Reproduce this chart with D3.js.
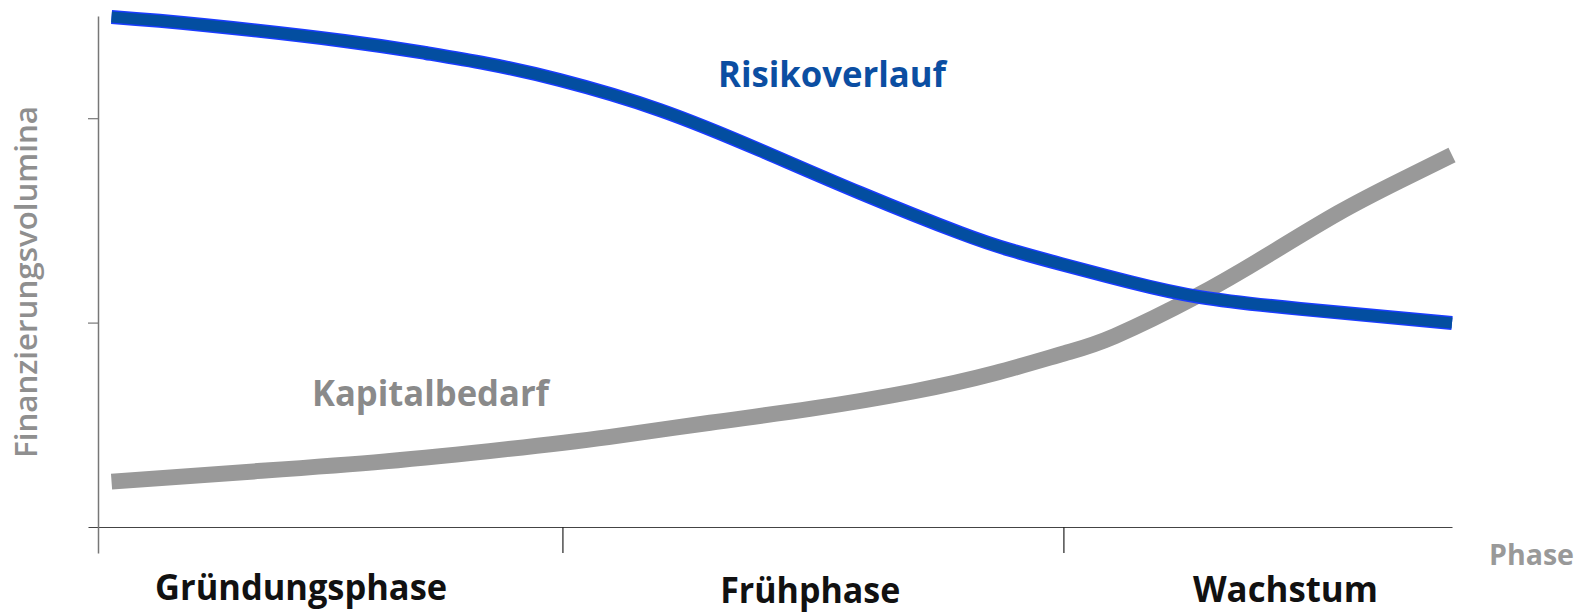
<!DOCTYPE html>
<html>
<head>
<meta charset="utf-8">
<script src="https://cdn.jsdelivr.net/npm/d3@7"></script>
<style>
  html, body { margin: 0; padding: 0; background: #fff; }
  svg { display: block; }
</style>
</head>
<body>
<svg id="chart" width="1590" height="613"></svg>
<script>
// ---- Data ----
const phases = ["Gründungsphase", "Frühphase", "Wachstum"];
const phaseBoundaries = [343, 713];          // x-positions (0..1000 progress) of phase tick marks
const phaseLabelX = [150, 526, 877];         // label centres, same units
const yTicks = [1, 2];

const risikoX = [10, 78, 182, 242, 287, 341, 415, 489, 563, 637, 674, 711, 762, 814, 888, 1000];
const risikoY = [2.495, 2.456, 2.378, 2.319, 2.267, 2.187, 2.040, 1.844, 1.634, 1.438, 1.355, 1.287, 1.199, 1.125, 1.067, 0.998];

const kapitalX = [10, 115, 212, 302, 377, 452, 527, 602, 662, 714, 751, 811, 864, 916, 961, 1000];
const kapitalY = [0.222, 0.272, 0.321, 0.381, 0.440, 0.510, 0.579, 0.663, 0.752, 0.850, 0.934, 1.128, 1.330, 1.536, 1.692, 1.820];

// ---- Layout ----
const svg = d3.select("#chart");
const x = d3.scaleLinear().domain([0, 1000]).range([98, 1452]);
const y = d3.scaleLinear().domain([0, 2.5]).range([527, 16]);

// X axis (extends slightly left of the y axis)
const xAxisScale = x.copy().domain([x.invert(88), 1000]).range([88, 1452]);
const gx = svg.append("g")
  .attr("transform", `translate(0,${y(0)})`)
  .call(d3.axisBottom(xAxisScale).tickValues(phaseBoundaries).tickSize(26).tickSizeOuter(0).tickFormat(""));
gx.select(".domain").attr("stroke", "#444").attr("stroke-width", 1.2);
gx.selectAll(".tick line").attr("stroke", "#222").attr("stroke-width", 1.2);

// Y axis (extends below the x axis)
const yAxisScale = y.copy().domain([y.invert(553), 2.5]).range([553, 16]);
const gy = svg.append("g")
  .attr("transform", `translate(${x(0)},0)`)
  .call(d3.axisLeft(yAxisScale).tickValues(yTicks).tickSize(10).tickSizeOuter(0).tickFormat(""));
gy.select(".domain").attr("stroke", "#777").attr("stroke-width", 1.5);
gy.selectAll(".tick line").attr("stroke", "#777").attr("stroke-width", 1.2);

// Lines
const line = d3.line().x(d => x(d[0])).y(d => y(d[1])).curve(d3.curveNatural);
const kapital = kapitalX.map((v, i) => [v, kapitalY[i]]);
const risiko = risikoX.map((v, i) => [v, risikoY[i]]);

svg.append("path").datum(kapital).attr("d", line)
  .attr("fill", "none").attr("stroke", "#999999").attr("stroke-width", 16).attr("stroke-linecap", "butt");

svg.append("path").datum(risiko).attr("d", line)
  .attr("fill", "none").attr("stroke", "#1a3cff").attr("stroke-width", 14).attr("stroke-linecap", "butt");
svg.append("path").datum(risiko).attr("d", line)
  .attr("fill", "none").attr("stroke", "#034ea0").attr("stroke-width", 11).attr("stroke-linecap", "butt");

// Text helper: fit to a measured width
function fitText(sel, w) {
  sel.attr("textLength", w).attr("lengthAdjust", "spacingAndGlyphs");
  return sel;
}
const font = "'Open Sans', 'DejaVu Sans', sans-serif";

// Phase labels
const phaseWidths = [292, 180, 185];
const phaseBase = [600, 603, 602];
phases.forEach((p, i) => {
  fitText(svg.append("text")
    .attr("x", x(phaseLabelX[i])).attr("y", phaseBase[i])
    .attr("text-anchor", "middle")
    .attr("font-family", font).attr("font-weight", 700).attr("font-size", 35)
    .attr("fill", "#111").text(p), phaseWidths[i]);
});

// Axis title "Phase"
fitText(svg.append("text")
  .attr("x", 1489).attr("y", 565)
  .attr("font-family", font).attr("font-weight", 700).attr("font-size", 29)
  .attr("fill", "#999").text("Phase"), 85);

// Y title
fitText(svg.append("text")
  .attr("transform", "translate(37,282) rotate(-90)")
  .attr("text-anchor", "middle")
  .attr("font-family", font).attr("font-weight", 600).attr("font-size", 31)
  .attr("fill", "#8f8f8f").text("Finanzierungsvolumina"), 352);

// Series labels
fitText(svg.append("text")
  .attr("x", 718).attr("y", 87)
  .attr("font-family", font).attr("font-weight", 700).attr("font-size", 35)
  .attr("fill", "#0b4ea2").text("Risikoverlauf"), 228);

fitText(svg.append("text")
  .attr("x", 312).attr("y", 406)
  .attr("font-family", font).attr("font-weight", 700).attr("font-size", 35)
  .attr("fill", "#8a8a8a").text("Kapitalbedarf"), 237);
</script>
</body>
</html>
